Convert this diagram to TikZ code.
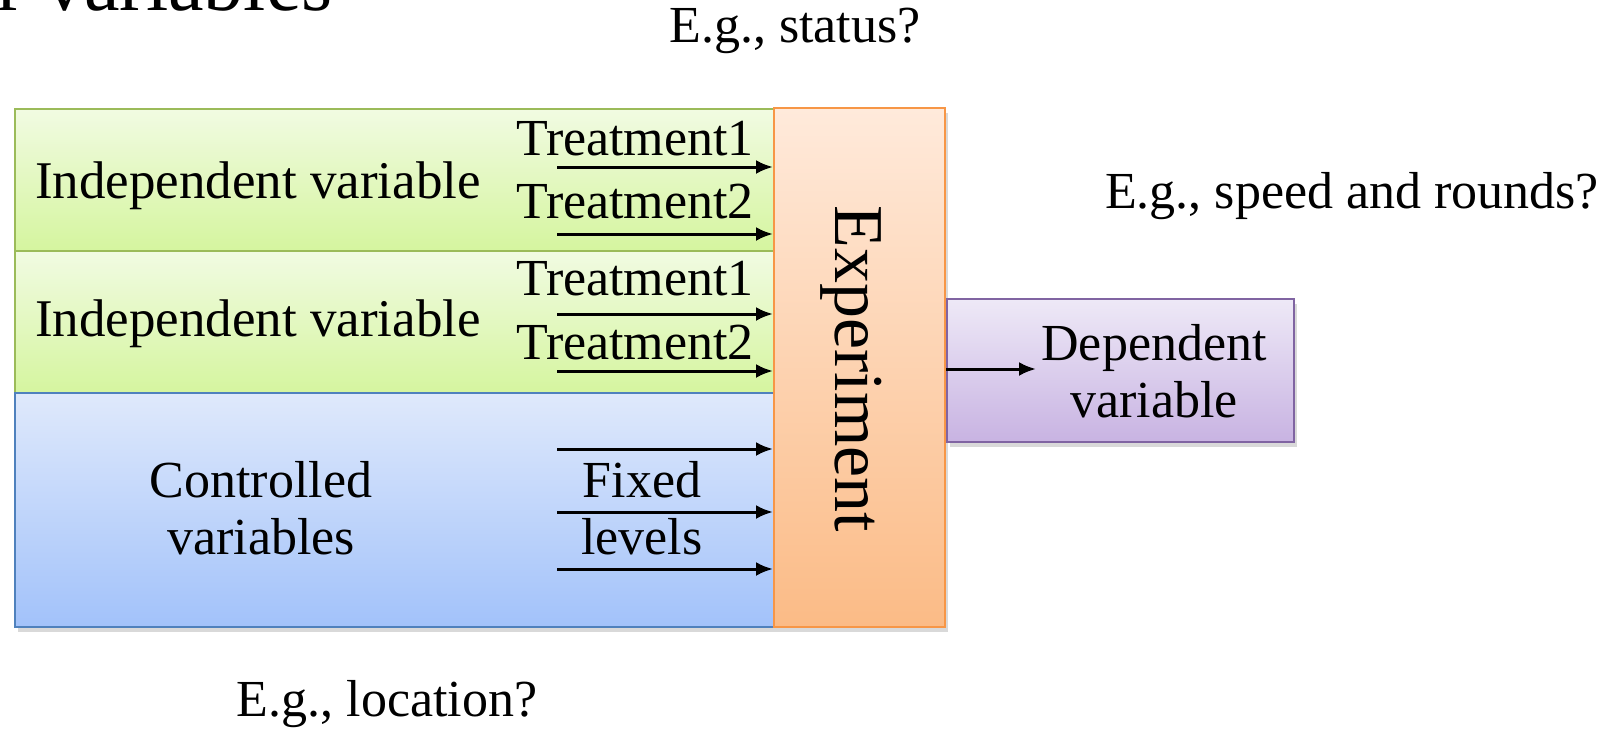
\documentclass[tikz,border=0pt]{standalone}
\usepackage{fontspec}
\setmainfont{Liberation Serif}
\usepackage{xcolor}
\usepackage{tikz}
\usetikzlibrary{arrows.meta,shadows}

\definecolor{ivline}{HTML}{9BBB59}
\definecolor{ivtop}{HTML}{F1FBE2}
\definecolor{ivbot}{HTML}{D5F59F}
\definecolor{cvline}{HTML}{4F81BD}
\definecolor{cvtop}{HTML}{DFE9FB}
\definecolor{cvbot}{HTML}{A2C2FA}
\definecolor{exline}{HTML}{F79646}
\definecolor{extop}{HTML}{FFEADB}
\definecolor{exbot}{HTML}{FBBB86}
\definecolor{dvline}{HTML}{8064A2}
\definecolor{dvtop}{HTML}{EEE9F7}
\definecolor{dvbot}{HTML}{C8B3E2}

\tikzset{
  box/.style={rectangle, draw, line width=1pt, inner sep=0pt,
    drop shadow={shadow xshift=1.5pt, shadow yshift=-2.5pt, opacity=0.3}},
  ivbox/.style={box, draw=ivline, top color=ivtop, bottom color=ivbot,
    minimum width=379.75pt, minimum height=71pt},
  cvbox/.style={box, draw=cvline, top color=cvtop, bottom color=cvbot,
    minimum width=379.75pt, minimum height=117pt},
  exbox/.style={box, draw=exline, top color=extop, bottom color=exbot,
    minimum width=85.5pt, minimum height=259.5pt},
  dvbox/.style={box, draw=dvline, top color=dvtop, bottom color=dvbot,
    minimum width=173.5pt, minimum height=71.5pt},
  lbl/.style={font=\fontsize{26}{28.5}\selectfont, align=center, inner sep=0pt},
  feed/.style={-{Latex[length=8.5pt,width=7pt]}, line width=1.5pt},
}

\begin{document}
\begin{tikzpicture}[x=0.5pt, y=-0.5pt]
\useasboundingbox (0,0) rectangle (1619,729);

% title, cut off by the page
\node[anchor=base west, inner sep=0pt, font=\fontsize{40}{44}\selectfont] (title) at (-3,10) {r variables};

% boxes
\node[ivbox] (iv1) at (394.25,179.5) {};
\node[ivbox] (iv2) at (394.25,322) {};
\node[cvbox] (cv) at (394.25,510) {};
\node[exbox] (ex) at (859.5,367.5) {};
\node[dvbox] (dv) at (1120.5,370.5) {};

% labels
\node[lbl, font=\fontsize{26.5}{28.5}\selectfont] (iv1l) at (258,186) {Independent variable};
\node[lbl, font=\fontsize{26.5}{28.5}\selectfont] (iv2l) at (258,324) {Independent variable};
\node[lbl] (cvl) at (261,508) {Controlled\\variables};
\node[lbl, rotate=-90, font=\fontsize{35}{38}\selectfont] (exl) at (851,369) {Experiment};
\node[lbl] (dvl) at (1154,371) {Dependent\\variable};

\node[lbl] (a1) at (635,139) {Treatment1};
\node[lbl] (a2) at (635,202) {Treatment2};
\node[lbl] (b1) at (635,279) {Treatment1};
\node[lbl] (b2) at (635,343) {Treatment2};
\node[lbl] (fix) at (642,508) {Fixed\\levels};

\node[lbl] (eg1) at (795,31) {E.g., status?};
\node[lbl] (eg2) at (1352,196) {E.g., speed and rounds?};
\node[lbl] (eg3) at (387,704) {E.g., location?};

% arrows into the experiment
\coordinate (p1) at (557,167);
\coordinate (p2) at (557,234);
\coordinate (p3) at (557,314);
\coordinate (p4) at (557,371);
\coordinate (p5) at (557,449);
\coordinate (p6) at (557,512);
\coordinate (p7) at (557,569);
\foreach \p in {p1,p2,p3,p4,p5,p6,p7}
  \draw[feed] (\p) -- (\p -| ex.west);

% arrow out of it
\coordinate (q) at (1036,369);
\draw[feed] (dv.west |- q) -- (q);
\end{tikzpicture}
\end{document}
